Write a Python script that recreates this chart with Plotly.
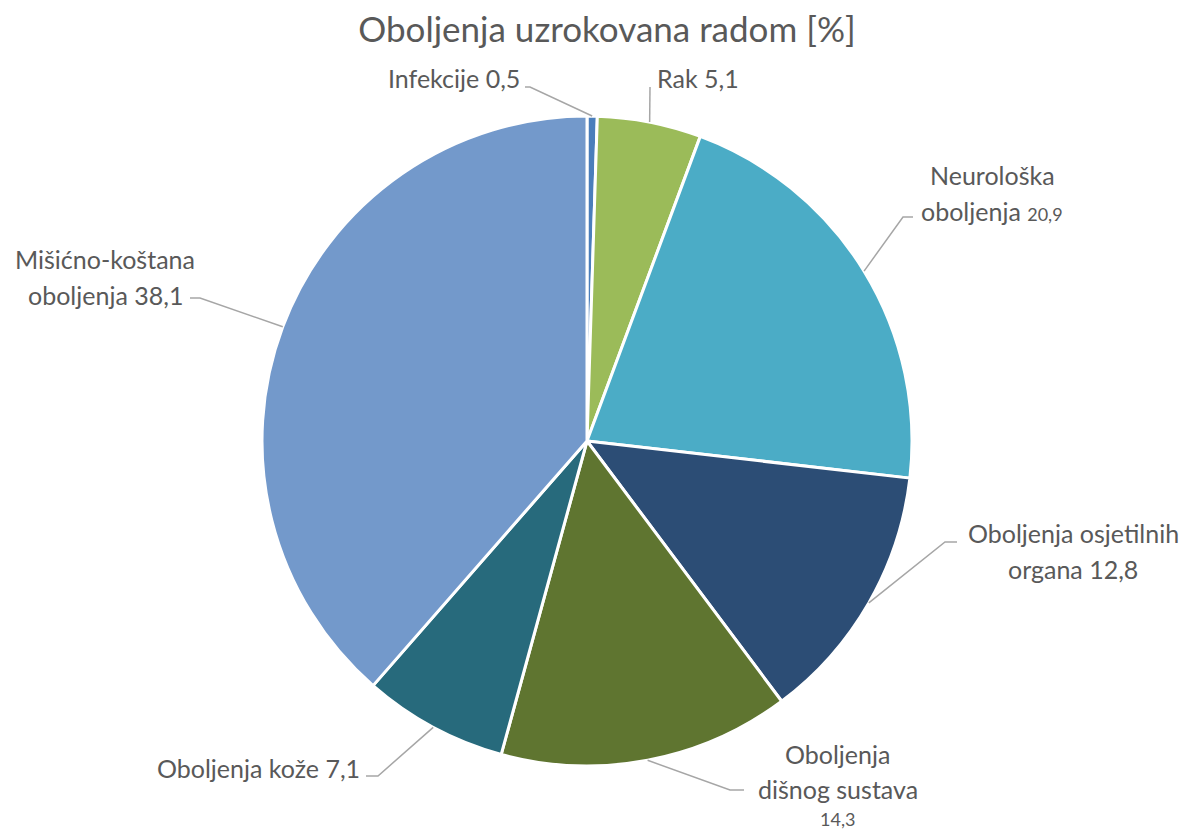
import math
import plotly.graph_objects as go

# ---- data ----
categories = ["Infekcije", "Rak", "Neurološka oboljenja", "Oboljenja osjetilnih organa",
              "Oboljenja dišnog sustava", "Oboljenja kože", "Mišićno-koštana oboljenja"]
values = [0.5, 5.1, 20.9, 12.8, 14.3, 7.1, 38.1]
value_labels = ["0,5", "5,1", "20,9", "12,8", "14,3", "7,1", "38,1"]
colors = ["#4A7EBB", "#9BBB59", "#4BACC6", "#2C4D75", "#5F7530", "#276A7C", "#7399CB"]

# ---- layout (pixels in the 1192x832 screenshot; page has 8px body margin) ----
OFF = 8
W, H = 1192 - 2 * OFF, 832 - OFF
CX, CY, R = 587, 441, 325
FONT = "Lato"
TXT = "#595959"
BIG, SMALL = 25, 18

def px(x):
    return (x - OFF) / W

def py(y):
    return 1 - (y - OFF) / H

fig = go.Figure(go.Pie(
    labels=categories, values=values, sort=False, direction="clockwise", rotation=0,
    marker=dict(colors=colors, line=dict(color="white", width=3)),
    textinfo="none", hoverinfo="label+value", showlegend=False,
    domain=dict(x=[px(CX - R), px(CX + R)], y=[py(CY + R), py(CY - R)]),
))

# label lines: (text, x, y, xanchor, size)
label_lines = [
    [(f"{categories[0]} {value_labels[0]}", 522, 78, "right", BIG)],
    [(f"{categories[1]} {value_labels[1]}", 655, 78, "left", BIG)],
    [("Neurološka", 992, 175, "center", BIG),
     (f"oboljenja <span style='font-size:{SMALL}px'>{value_labels[2]}</span>", 992, 211, "center", BIG)],
    [("Oboljenja osjetilnih", 1073, 533, "center", BIG), (f"organa {value_labels[3]}", 1073, 569, "center", BIG)],
    [("Oboljenja", 838, 754, "center", BIG), ("dišnog sustava", 838, 789, "center", BIG),
     (value_labels[4], 838, 819, "center", SMALL)],
    [(f"{categories[5]} {value_labels[5]}", 362, 768, "right", BIG)],
    [("Mišićno-koštana", 105, 259, "center", BIG), (f"oboljenja {value_labels[6]}", 105, 295, "center", BIG)],
]
# leader elbow and end points (pixels)
leaders = [
    ((530, 87), (525, 87)),
    ((650, 87), (650, 87)),
    ((903, 217), (913, 217)),
    ((945, 542), (957, 542)),
    ((730, 790), (744, 790)),
    ((378, 776), (366, 776)),
    ((200, 298), (190, 298)),
]

annotations = []
for lines in label_lines:
    for text, x, y, xa, size in lines:
        annotations.append(dict(
            x=px(x), y=py(y), xref="paper", yref="paper", text=text, showarrow=False,
            xanchor=xa, yanchor="middle", font=dict(family=FONT, size=size, color=TXT)))

shapes = []
total = sum(values)
cum = 0.0
for v, (elbow, end) in zip(values, leaders):
    mid = (cum + v / 2) / total * 2 * math.pi
    cum += v
    ex = CX + R * math.sin(mid)
    ey = CY - R * math.cos(mid)
    path = f"M {px(ex)},{py(ey)} L {px(elbow[0])},{py(elbow[1])} L {px(end[0])},{py(end[1])}"
    shapes.append(dict(type="path", xref="paper", yref="paper", path=path,
                       line=dict(color="#A6A6A6", width=1.5)))

fig.update_layout(
    width=W, height=H, margin=dict(l=0, r=0, t=0, b=0),
    paper_bgcolor="white", plot_bgcolor="white",
    title=dict(text="Oboljenja uzrokovana radom [%]", x=px(607), xanchor="center",
               y=py(30), yanchor="middle", font=dict(family=FONT, size=35, color=TXT)),
    annotations=annotations, shapes=shapes,
)

fig.write_html("out.html")
